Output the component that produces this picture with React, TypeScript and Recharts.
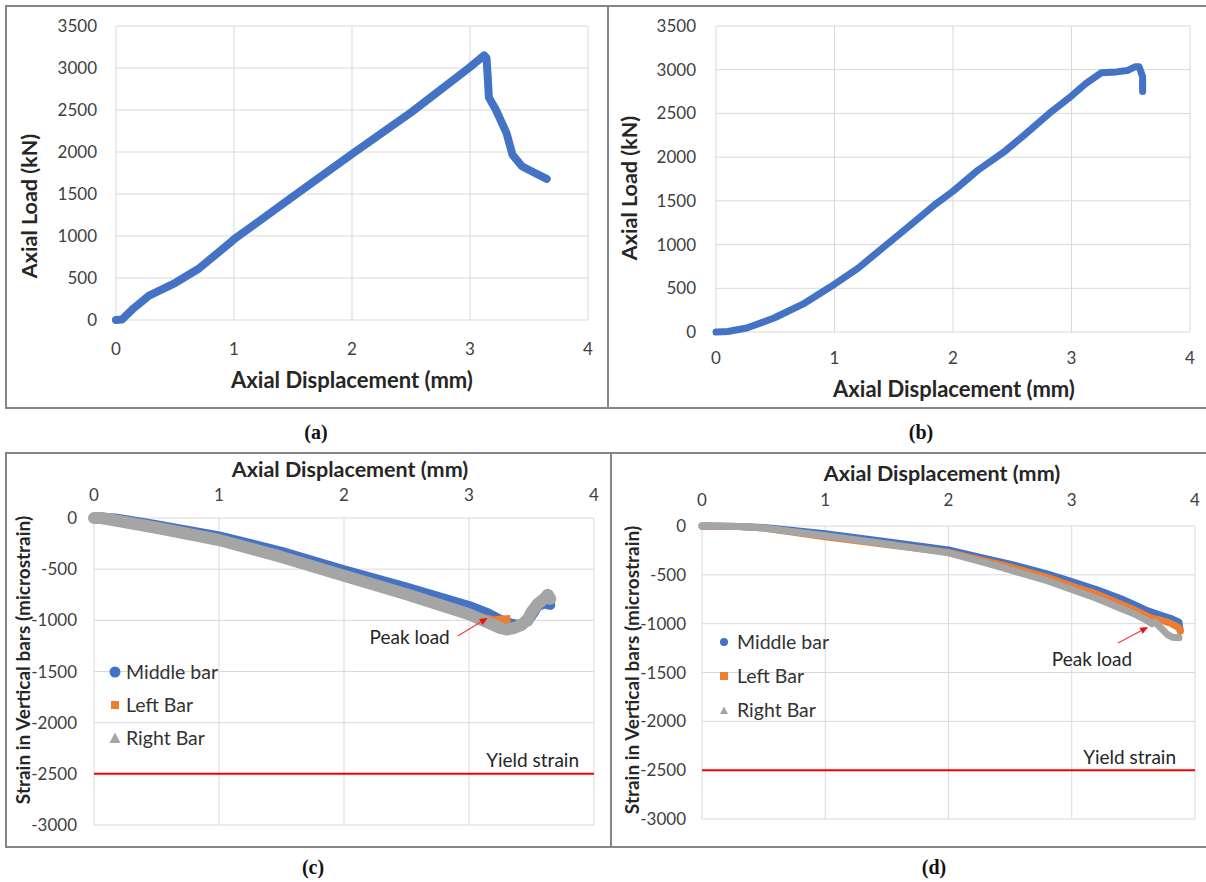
import React from 'react';
import { LineChart, Line, XAxis, YAxis, CartesianGrid, ReferenceLine, Legend } from 'recharts';

const BLUE = '#4472C4';
const ORANGE = '#ED7D31';
const GRAY = '#A5A5A5';
const RED = '#FF0000';
const GRID = '#D9D9D9';
const TICK = '#404040';
const TITLE = '#262626';
const BORDER = '#858585';
const FONT = 'Lato, "Open Sans", sans-serif';

// Tick values
const dispTicks = [0, 1, 2, 3, 4];
const loadTicks = [0, 500, 1000, 1500, 2000, 2500, 3000, 3500];
const strainTicks = [-3000, -2500, -2000, -1500, -1000, -500, 0];
const yieldStrain = -2500;

// (a) load vs displacement
const dispA = [0, 0.05, 0.15, 0.28, 0.5, 0.7, 0.95, 1.0, 1.5, 2.0, 2.5, 3.0, 3.12, 3.14, 3.15, 3.16, 3.22, 3.31, 3.36, 3.44, 3.55, 3.65];
const loadA = [0, 5, 140, 290, 440, 610, 900, 960, 1470, 1975, 2470, 3010, 3150, 3120, 2900, 2650, 2500, 2224, 1968, 1830, 1750, 1680];

// (b) load vs displacement
const dispB = [0, 0.1, 0.26, 0.49, 0.75, 0.97, 1.2, 1.44, 1.62, 1.85, 2.0, 2.21, 2.44, 2.6, 2.83, 3.0, 3.12, 3.25, 3.38, 3.47, 3.54, 3.57, 3.6, 3.6];
const loadB = [0, 5, 46, 160, 331, 520, 730, 1000, 1200, 1460, 1610, 1850, 2070, 2250, 2520, 2700, 2840, 2965, 2975, 2990, 3035, 3035, 2920, 2750];

// (c) strains
const midDispC = [0, 0.17, 0.5, 1.0, 1.5, 2.0, 2.5, 3.0, 3.15, 3.26, 3.33, 3.39, 3.47, 3.52, 3.55, 3.6, 3.65];
const midStrainC = [0, -5, -70, -180, -330, -510, -680, -860, -930, -1000, -1030, -1045, -1010, -920, -860, -835, -850];
const leftDispC = [0, 0.06, 0.5, 1.0, 1.5, 2.0, 2.5, 3.0, 3.2, 3.3];
const leftStrainC = [0, 0, -100, -225, -390, -575, -755, -945, -1000, -990];
const rightDispC = [0, 0.06, 0.5, 1.0, 1.5, 2.0, 2.5, 3.0, 3.15, 3.25, 3.3, 3.36, 3.42, 3.47, 3.5, 3.55, 3.6, 3.63, 3.65];
const rightStrainC = [0, 0, -95, -215, -380, -565, -745, -940, -1020, -1075, -1090, -1075, -1045, -990, -920, -840, -790, -750, -790];

// (d) strains
const midDispD = [0, 0.3, 0.5, 1, 1.5, 2, 2.25, 2.5, 2.8, 3, 3.2, 3.4, 3.5, 3.6, 3.7, 3.8, 3.87, 3.88];
const midStrainD = [0, -5, -15, -80, -160, -245, -320, -390, -490, -570, -650, -745, -800, -860, -905, -945, -985, -1070];
const leftDispD = [0, 0.3, 0.5, 1, 1.5, 2, 2.25, 2.5, 2.8, 3, 3.2, 3.4, 3.5, 3.6, 3.66, 3.7, 3.8, 3.87, 3.88];
const leftStrainD = [0, -5, -20, -110, -190, -270, -345, -420, -525, -615, -695, -800, -855, -915, -950, -955, -995, -1040, -1080];
const rightDispD = [0, 0.3, 0.5, 1, 1.5, 2, 2.25, 2.5, 2.8, 3, 3.2, 3.4, 3.5, 3.6, 3.65, 3.68, 3.72, 3.78, 3.82, 3.87];
const rightStrainD = [0, -5, -20, -100, -185, -275, -360, -450, -560, -650, -740, -845, -895, -960, -1000, -985, -1040, -1115, -1140, -1145];

// Peak-load annotation arrows (tail -> head, in data units)
const peakArrowC = [{ x: 2.91, y: -1153 }, { x: 3.15, y: -977 }];
const peakArrowD = [{ x: 3.375, y: -1198 }, { x: 3.62, y: -1034 }];

const zip = (xs: number[], ys: number[]) => xs.map((x, i) => ({ x, y: ys[i] }));

const dataA = zip(dispA, loadA);
const dataB = zip(dispB, loadB);
const midC = zip(midDispC, midStrainC);
const leftC = zip(leftDispC, leftStrainC);
const rightC = zip(rightDispC, rightStrainC);
const midD = zip(midDispD, midStrainD);
const leftD = zip(leftDispD, leftStrainD);
const rightD = zip(rightDispD, rightStrainD);

const legendItems = [
  { name: 'Middle bar', color: BLUE, icon: 'circle' },
  { name: 'Left Bar', color: ORANGE, icon: 'square' },
  { name: 'Right Bar', color: GRAY, icon: 'triangle' },
];

const tickStyle = { fill: TICK, fontSize: 17, fontFamily: FONT };
const titleBase: React.CSSProperties = { fill: TITLE, fontWeight: 700, fontFamily: FONT };

const xTitle = (cx: number, cy: number, size: number) => () => (
  <text x={cx} y={cy} textAnchor="middle" dominantBaseline="central" style={{ ...titleBase, fontSize: size }}>
    Axial Displacement (mm)
  </text>
);
const yTitle = (text: string, cx: number, cy: number, size: number) => () => (
  <text x={cx} y={cy} transform={`rotate(-90, ${cx}, ${cy})`} textAnchor="middle" dominantBaseline="central"
    style={{ ...titleBase, fontSize: size }}>
    {text}
  </text>
);

const yieldLabel = (inset: number, up: number) => (props: any) => {
  const vb = props.viewBox || {};
  return (
    <text x={vb.x + vb.width - inset} y={vb.y - up} textAnchor="end" dominantBaseline="central"
      style={{ fill: '#262626', fontSize: 19, fontFamily: FONT }}>
      Yield strain
    </text>
  );
};

const arrowShape = (anchor: 'end' | 'middle', dx: number, dy: number) => (p: any) => {
  const { x1, y1, x2, y2 } = p;
  const ang = Math.atan2(y2 - y1, x2 - x1);
  const L = 8;
  const W = 3.5;
  const bx = x2 - L * Math.cos(ang);
  const by = y2 - L * Math.sin(ang);
  const pts = `${x2},${y2} ${bx + W * Math.sin(ang)},${by - W * Math.cos(ang)} ${bx - W * Math.sin(ang)},${by + W * Math.cos(ang)}`;
  return (
    <g>
      <line x1={x1} y1={y1} x2={bx} y2={by} stroke="#F03C3C" strokeWidth={1.2} />
      <polygon points={pts} fill="#F01010" />
      <text x={x1 + dx} y={y1 + dy} textAnchor={anchor} dominantBaseline="central"
        style={{ fill: '#262626', fontSize: 19, fontFamily: FONT }}>
        Peak load
      </text>
    </g>
  );
};

const legendContent = (rowH: number, big: boolean) => () => (
  <div style={{ fontFamily: FONT, fontSize: 19.5, color: '#333' }}>
    {legendItems.map((it) => (
      <div key={it.name} style={{ height: rowH, display: 'flex', alignItems: 'center' }}>
        <svg width={12} height={12} style={{ marginRight: big ? 5 : 7, flex: 'none' }}>
          {it.icon === 'circle' && <circle cx={6} cy={6} r={big ? 5.5 : 4} fill={it.color} />}
          {it.icon === 'square' && <rect x={2} y={2} width={8} height={8} fill={it.color} />}
          {it.icon === 'triangle' && (big
            ? <polygon points="6,0.5 11.5,11 0.5,11" fill={it.color} />
            : <polygon points="6,2.5 10,10 2,10" fill={it.color} />)}
        </svg>
        <span style={{ lineHeight: 1 }}>{it.name}</span>
      </div>
    ))}
  </div>
);

const Caption = ({ text, cx, cy }: { text: string; cx: number; cy: number }) => (
  <div style={{
    position: 'absolute', left: cx - 30, top: cy - 12, width: 60, height: 24, lineHeight: '24px',
    textAlign: 'center', fontFamily: '"Liberation Serif", "DejaVu Serif", serif', fontWeight: 700, fontSize: 20, color: '#111',
  }}>{text}</div>
);

export default function App() {
  return (
    <div style={{ position: 'absolute', left: 0, top: 0, width: 1206, height: 882, background: '#fff', overflow: 'hidden' }}>
      {/* panel borders */}
      <div style={{ position: 'absolute', left: 5, top: 5, width: 1220, height: 404, border: `2px solid ${BORDER}`, boxSizing: 'border-box' }} />
      <div style={{ position: 'absolute', left: 607, top: 5, width: 2, height: 404, background: BORDER }} />
      <div style={{ position: 'absolute', left: 5, top: 452, width: 1220, height: 396, border: `2px solid ${BORDER}`, boxSizing: 'border-box' }} />
      <div style={{ position: 'absolute', left: 610, top: 452, width: 2, height: 396, background: BORDER }} />

      {/* (a) */}
      <div style={{ position: 'absolute', left: 6, top: 6 }}>
        <LineChart width={602} height={402} margin={{ top: 20, right: 20, bottom: 48, left: 0 }}>
          <CartesianGrid stroke={GRID} />
          <XAxis type="number" dataKey="x" domain={[0, 4]} ticks={dispTicks} height={40} tickLine={false} axisLine={false}
            tickSize={0} tickMargin={23} tick={tickStyle} label={xTitle(346, 373, 22)} />
          <YAxis type="number" dataKey="y" domain={[0, 3500]} ticks={loadTicks} width={110} tickLine={false} axisLine={false}
            tickSize={0} tickMargin={19} tick={tickStyle} label={yTitle('Axial Load (kN)', 23, 200, 21.5)} />
          <Line data={dataA} dataKey="y" type="linear" stroke={BLUE} strokeWidth={8} strokeLinecap="round" strokeLinejoin="round"
            dot={false} activeDot={false} isAnimationActive={false} />
        </LineChart>
      </div>

      {/* (b) */}
      <div style={{ position: 'absolute', left: 608, top: 6 }}>
        <LineChart width={598} height={402} margin={{ top: 20, right: 16, bottom: 36, left: 0 }}>
          <CartesianGrid stroke={GRID} />
          <XAxis type="number" dataKey="x" domain={[0, 4]} ticks={dispTicks} height={40} tickLine={false} axisLine={false}
            tickSize={0} tickMargin={20} tick={tickStyle} label={xTitle(346, 382, 22)} />
          <YAxis type="number" dataKey="y" domain={[0, 3500]} ticks={loadTicks} width={108} tickLine={false} axisLine={false}
            tickSize={0} tickMargin={20} tick={tickStyle} label={yTitle('Axial Load (kN)', 21, 182, 21.5)} />
          <Line data={dataB} dataKey="y" type="linear" stroke={BLUE} strokeWidth={7} strokeLinecap="round" strokeLinejoin="round"
            dot={false} activeDot={false} isAnimationActive={false} />
        </LineChart>
      </div>

      {/* (c) */}
      <div style={{ position: 'absolute', left: 6, top: 453 }}>
        <LineChart width={605} height={394} margin={{ top: 25, right: 17, bottom: 22, left: 0 }}>
          <CartesianGrid stroke={GRID} />
          <XAxis type="number" dataKey="x" orientation="top" domain={[0, 4]} ticks={dispTicks} height={40} tickLine={false} axisLine={false}
            tickSize={0} tickMargin={17} tick={tickStyle} label={xTitle(344, 16, 21.5)} />
          <YAxis type="number" dataKey="y" domain={[-3000, 0]} ticks={strainTicks} width={88} tickLine={false} axisLine={false}
            tickSize={0} tickMargin={17} tick={tickStyle} label={yTitle('Strain in Vertical bars (microstrain)', 16, 207, 19)} />
          <ReferenceLine y={yieldStrain} stroke={RED} strokeWidth={2} label={yieldLabel(15, 14)} />
          <Line data={midC} dataKey="y" name="Middle bar" type="linear" stroke={BLUE} strokeWidth={10} strokeLinecap="round" strokeLinejoin="round"
            dot={false} activeDot={false} isAnimationActive={false} />
          <Line data={leftC} dataKey="y" name="Left Bar" type="linear" stroke={ORANGE} strokeWidth={8} strokeLinecap="square" strokeLinejoin="round"
            dot={false} activeDot={false} isAnimationActive={false} />
          <Line data={rightC} dataKey="y" name="Right Bar" type="linear" stroke={GRAY} strokeWidth={12} strokeLinecap="round" strokeLinejoin="round"
            dot={false} activeDot={false} isAnimationActive={false} />
          <ReferenceLine segment={peakArrowC} shape={arrowShape('end', -8, 1)} />
          <Legend layout="horizontal" verticalAlign="middle" align="center" content={legendContent(33, true)}
            wrapperStyle={{ left: 103, top: 202, width: 'auto', height: 'auto' }} />
        </LineChart>
      </div>

      {/* (d) */}
      <div style={{ position: 'absolute', left: 611, top: 453 }}>
        <LineChart width={595} height={394} margin={{ top: 33, right: 11, bottom: 28, left: 0 }}>
          <CartesianGrid stroke={GRID} />
          <XAxis type="number" dataKey="x" orientation="top" domain={[0, 4]} ticks={dispTicks} height={40} tickLine={false} axisLine={false}
            tickSize={0} tickMargin={20} tick={tickStyle} label={xTitle(331, 20, 21.5)} />
          <YAxis type="number" dataKey="y" domain={[-3000, 0]} ticks={strainTicks} width={91} tickLine={false} axisLine={false}
            tickSize={0} tickMargin={16} tick={tickStyle} label={yTitle('Strain in Vertical bars (microstrain)', 20, 217, 19)} />
          <ReferenceLine y={yieldStrain} stroke={RED} strokeWidth={2} label={yieldLabel(19, 14)} />
          <Line data={midD} dataKey="y" name="Middle bar" type="linear" stroke={BLUE} strokeWidth={7} strokeLinecap="round" strokeLinejoin="round"
            dot={false} activeDot={false} isAnimationActive={false} />
          <Line data={leftD} dataKey="y" name="Left Bar" type="linear" stroke={ORANGE} strokeWidth={7} strokeLinecap="round" strokeLinejoin="round"
            dot={false} activeDot={false} isAnimationActive={false} />
          <Line data={rightD} dataKey="y" name="Right Bar" type="linear" stroke={GRAY} strokeWidth={7} strokeLinecap="round" strokeLinejoin="round"
            dot={false} activeDot={false} isAnimationActive={false} />
          <ReferenceLine segment={peakArrowD} shape={arrowShape('middle', -26, 15)} />
          <Legend layout="horizontal" verticalAlign="middle" align="center" content={legendContent(34, false)}
            wrapperStyle={{ left: 107, top: 172, width: 'auto', height: 'auto' }} />
        </LineChart>
      </div>

      <Caption text="(a)" cx={316} cy={432} />
      <Caption text="(b)" cx={921} cy={432} />
      <Caption text="(c)" cx={313} cy={867} />
      <Caption text="(d)" cx={934} cy={867} />
    </div>
  );
}
